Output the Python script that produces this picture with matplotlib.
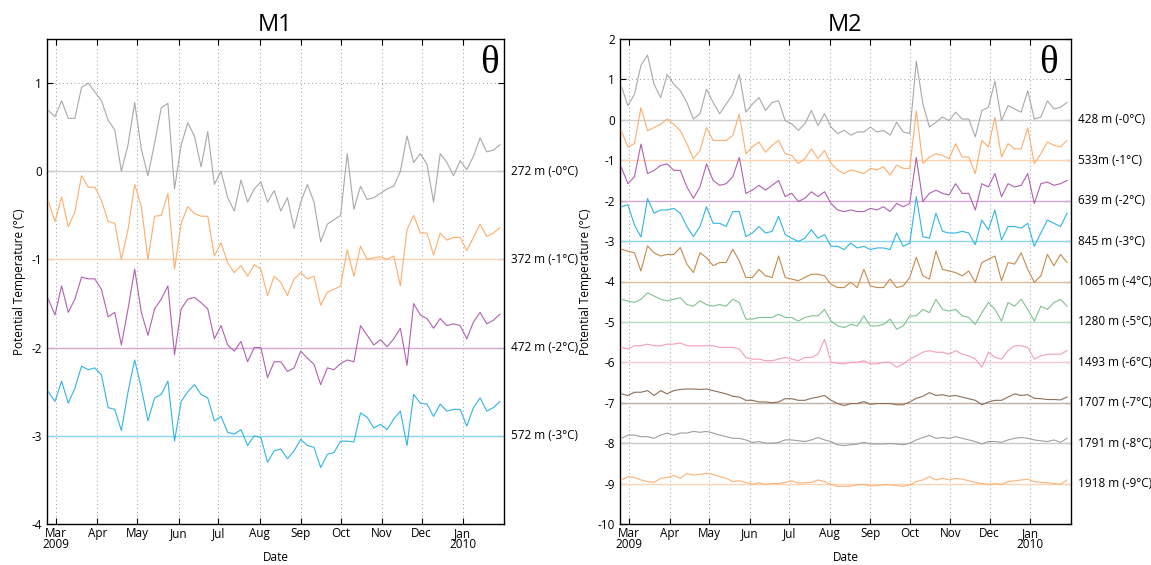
"""
Potential temperature time series at moorings M1 and M2,
Mar 2009 - Jan 2010. Each depth is shifted down by 1 degC.
"""

import numpy as np
import matplotlib
matplotlib.use("Agg")
import matplotlib.pyplot as plt
import matplotlib.colors as mcolors
import matplotlib.transforms as mtrans


# Sampling dates (every 5 days) shared by both moorings
dates = np.arange(np.datetime64("2009-02-23"), np.datetime64("2010-01-30"),
                  np.timedelta64(5, "D"))

# Month ticks
month_ticks = ["2009-03-01", "2009-04-01", "2009-05-01", "2009-06-01",
               "2009-07-01", "2009-08-01", "2009-09-01", "2009-10-01",
               "2009-11-01", "2009-12-01", "2010-01-01"]
month_labels = ["Mar\n2009", "Apr", "May", "Jun", "Jul", "Aug", "Sep",
                "Oct", "Nov", "Dec", "Jan\n2010"]

# M1, values relative to each depth's baseline (degC)
m1_272 = [0.69, 0.62, 0.80, 0.60, 0.60, 0.95, 1.00, 0.90, 0.80, 0.58,
          0.47, 0.00, 0.30, 0.78, 0.25, -0.05, 0.32, 0.72, 0.77, -0.20,
          0.30, 0.55, 0.40, 0.05, 0.45, -0.15, 0.00, -0.30, -0.45, -0.10,
          -0.35, -0.20, -0.12, -0.35, -0.22, -0.45, -0.30, -0.65, -0.35, -0.15,
          -0.35, -0.80, -0.60, -0.55, -0.50, 0.20, -0.43, -0.17, -0.32, -0.30,
          -0.25, -0.20, -0.17, 0.00, 0.40, 0.10, 0.20, 0.08, -0.35, 0.20,
          0.10, -0.05, 0.12, 0.02, 0.17, 0.38, 0.22, 0.24, 0.30]
m1_372 = [0.66, 0.43, 0.71, 0.37, 0.54, 0.95, 0.82, 0.82, 0.67, 0.43,
          0.41, 0.00, 0.34, 0.85, 0.60, 0.00, 0.49, 0.50, 0.75, -0.11,
          0.41, 0.60, 0.52, 0.49, 0.49, 0.04, 0.19, -0.04, -0.15, -0.07,
          -0.19, -0.06, -0.11, -0.41, -0.19, -0.26, -0.41, -0.22, -0.15, -0.22,
          -0.19, -0.52, -0.37, -0.34, -0.30, 0.11, -0.19, 0.15, 0.00, 0.02,
          0.03, 0.00, 0.04, -0.30, 0.34, 0.50, 0.30, 0.30, 0.05, 0.30,
          0.22, 0.25, 0.25, 0.10, 0.25, 0.40, 0.26, 0.30, 0.36]
m1_472 = [0.55, 0.37, 0.70, 0.40, 0.55, 0.80, 0.78, 0.78, 0.66, 0.35,
          0.40, 0.03, 0.44, 0.89, 0.40, 0.14, 0.44, 0.55, 0.70, -0.08,
          0.44, 0.55, 0.57, 0.51, 0.44, 0.10, 0.25, 0.03, -0.04, 0.07,
          -0.16, 0.00, 0.00, -0.34, -0.16, -0.16, -0.27, -0.23, -0.04, -0.12,
          -0.19, -0.42, -0.23, -0.25, -0.18, -0.14, -0.16, 0.25, 0.14, 0.03,
          0.09, 0.01, 0.10, 0.22, -0.20, 0.50, 0.37, 0.33, 0.22, 0.33,
          0.25, 0.27, 0.25, 0.10, 0.29, 0.40, 0.27, 0.31, 0.38]
m1_572 = [0.50, 0.39, 0.62, 0.37, 0.54, 0.79, 0.75, 0.77, 0.69, 0.32,
          0.30, 0.06, 0.50, 0.86, 0.54, 0.17, 0.43, 0.47, 0.62, -0.06,
          0.39, 0.50, 0.58, 0.47, 0.43, 0.17, 0.22, 0.04, 0.02, 0.07,
          -0.11, 0.00, -0.02, -0.30, -0.17, -0.15, -0.26, -0.17, -0.04, -0.11,
          -0.13, -0.36, -0.21, -0.19, -0.06, -0.06, -0.07, 0.26, 0.21, 0.09,
          0.13, 0.07, 0.19, 0.28, -0.11, 0.47, 0.37, 0.36, 0.22, 0.36,
          0.28, 0.30, 0.30, 0.11, 0.32, 0.43, 0.28, 0.32, 0.39]

# M2, values relative to each depth's baseline (degC)
m2_428 = [0.84, 0.35, 0.63, 1.35, 1.60, 0.88, 0.55, 1.12, 0.88, 0.72,
          0.43, 0.02, 0.15, 0.76, 0.43, 0.15, 0.39, 0.63, 1.12, 0.19,
          0.39, 0.55, 0.23, 0.43, 0.47, -0.02, -0.10, -0.26, -0.10, 0.23,
          -0.14, 0.15, -0.18, -0.34, -0.26, -0.38, -0.30, -0.30, -0.18, -0.30,
          -0.26, -0.38, -0.06, -0.30, -0.34, 1.45, 0.40, -0.18, -0.06, 0.07,
          -0.02, 0.19, 0.02, 0.02, -0.42, 0.23, 0.31, 0.96, -0.02, 0.35,
          0.27, 0.19, 0.72, 0.02, 0.07, 0.47, 0.27, 0.31, 0.43]
m2_533 = [0.73, 0.33, 0.41, 1.30, 0.73, 0.81, 0.89, 1.02, 0.89, 0.73,
          0.41, 0.04, 0.24, 0.81, 0.49, 0.49, 0.49, 0.61, 1.14, 0.16,
          0.33, 0.45, 0.20, 0.37, 0.49, 0.16, 0.12, -0.08, 0.04, 0.28,
          0.04, 0.24, -0.08, -0.24, -0.33, -0.24, -0.28, -0.33, -0.20, -0.24,
          -0.16, -0.37, -0.12, -0.20, -0.20, 1.22, -0.08, 0.08, 0.16, 0.12,
          0.04, 0.41, 0.08, 0.08, -0.33, 0.49, 0.33, 1.06, 0.08, 0.41,
          0.28, 0.28, 0.80, -0.08, 0.16, 0.45, 0.37, 0.33, 0.49]
m2_639 = [0.83, 0.42, 0.59, 1.40, 0.67, 0.75, 0.87, 0.91, 0.75, 0.75,
          0.34, 0.06, 0.34, 0.91, 0.50, 0.38, 0.42, 0.59, 1.07, 0.18,
          0.26, 0.38, 0.26, 0.38, 0.50, 0.10, 0.18, -0.02, 0.06, 0.22,
          0.10, 0.22, -0.07, -0.23, -0.27, -0.23, -0.27, -0.27, -0.19, -0.23,
          -0.15, -0.27, -0.07, -0.15, -0.07, 1.07, -0.02, 0.18, 0.26, 0.18,
          0.14, 0.42, 0.18, 0.18, -0.23, 0.42, 0.34, 0.67, 0.10, 0.42,
          0.34, 0.38, 0.67, -0.07, 0.42, 0.46, 0.38, 0.42, 0.50]
m2_845 = [0.85, 0.90, 0.40, 0.10, 1.05, 0.69, 0.77, 0.77, 0.81, 0.69,
          0.36, 0.11, 0.36, 0.85, 0.44, 0.44, 0.36, 0.73, 0.73, 0.11,
          0.20, 0.36, 0.20, 0.24, 0.61, 0.16, 0.07, -0.01, 0.07, 0.28,
          0.07, 0.16, -0.13, -0.13, -0.21, -0.05, -0.17, -0.13, -0.21, -0.17,
          -0.17, -0.21, 0.20, -0.13, -0.05, 1.10, 0.11, 0.07, 0.69, 0.24,
          0.20, 0.20, 0.24, 0.20, -0.09, 0.52, 0.28, 0.77, 0.03, 0.36,
          0.36, 0.32, 0.44, -0.13, 0.20, 0.52, 0.44, 0.36, 0.69]
m2_1065 = [0.80, 0.75, 0.71, 0.26, 0.88, 0.71, 0.63, 0.67, 0.67, 0.84,
           0.43, 0.22, 0.71, 0.59, 0.39, 0.47, 0.47, 0.80, 0.51, 0.10,
           0.10, 0.30, 0.14, 0.10, 0.63, 0.10, 0.06, 0.02, 0.10, 0.18,
           0.18, 0.14, -0.07, -0.15, -0.15, -0.02, -0.15, 0.30, -0.11, -0.15,
           -0.15, 0.06, -0.15, -0.11, 0.10, 0.60, 0.14, 0.06, 0.75, 0.30,
           0.26, 0.22, 0.14, 0.26, -0.02, 0.47, 0.55, 0.63, 0.02, 0.47,
           0.43, 0.71, 0.30, -0.02, 0.14, 0.67, 0.39, 0.67, 0.47]
m2_1280 = [0.56, 0.52, 0.48, 0.56, 0.72, 0.64, 0.56, 0.52, 0.56, 0.60,
           0.43, 0.39, 0.52, 0.43, 0.39, 0.43, 0.39, 0.56, 0.48, 0.07,
           0.07, 0.11, 0.11, 0.11, 0.19, 0.11, 0.11, 0.02, 0.11, 0.15,
           0.15, 0.31, 0.02, -0.10, -0.14, -0.06, -0.10, 0.15, -0.10, -0.10,
           -0.06, 0.07, -0.18, -0.10, 0.15, 0.15, 0.31, 0.23, 0.56, 0.31,
           0.27, 0.31, 0.15, 0.11, -0.06, 0.23, 0.48, 0.31, 0.02, 0.48,
           0.39, 0.56, 0.31, 0.02, 0.39, 0.31, 0.48, 0.56, 0.39]
m2_1493 = [0.37, 0.33, 0.41, 0.41, 0.45, 0.41, 0.41, 0.45, 0.45, 0.48,
           0.41, 0.41, 0.41, 0.41, 0.41, 0.37, 0.37, 0.37, 0.33, 0.12,
           0.08, 0.08, 0.04, 0.04, 0.08, 0.12, 0.08, 0.04, 0.12, 0.12,
           0.20, 0.57, 0.00, -0.02, -0.04, 0.00, 0.00, 0.04, -0.04, -0.04,
           0.00, 0.00, -0.12, -0.04, 0.08, 0.16, 0.25, 0.29, 0.25, 0.25,
           0.20, 0.29, 0.20, 0.16, 0.08, -0.12, 0.25, 0.12, 0.08, 0.29,
           0.41, 0.41, 0.37, 0.08, 0.16, 0.20, 0.20, 0.20, 0.29]
m2_1707 = [0.22, 0.18, 0.26, 0.26, 0.30, 0.18, 0.30, 0.22, 0.30, 0.33,
           0.34, 0.34, 0.33, 0.34, 0.30, 0.26, 0.22, 0.16, 0.14, 0.06,
           0.06, 0.02, 0.02, 0.00, 0.02, 0.10, 0.10, 0.06, 0.06, 0.11,
           0.14, 0.18, 0.06, -0.02, -0.07, -0.02, -0.02, 0.03, -0.04, -0.02,
           -0.02, -0.02, -0.05, -0.05, 0.02, 0.11, 0.16, 0.25, 0.18, 0.20,
           0.16, 0.18, 0.14, 0.10, 0.06, -0.05, 0.02, 0.06, 0.06, 0.14,
           0.22, 0.18, 0.20, 0.11, 0.10, 0.08, 0.08, 0.07, 0.14]
m2_1791 = [0.12, 0.20, 0.20, 0.16, 0.16, 0.12, 0.20, 0.25, 0.20, 0.25,
           0.25, 0.29, 0.27, 0.29, 0.25, 0.20, 0.16, 0.12, 0.12, 0.08,
           0.02, 0.04, 0.00, 0.00, 0.02, 0.08, 0.08, 0.06, 0.04, 0.08,
           0.14, 0.08, 0.04, -0.04, -0.06, -0.04, -0.02, 0.02, -0.02, -0.02,
           -0.02, -0.01, -0.02, -0.04, 0.00, 0.08, 0.14, 0.19, 0.12, 0.14,
           0.12, 0.16, 0.12, 0.08, 0.04, -0.02, 0.04, 0.04, 0.02, 0.08,
           0.12, 0.14, 0.12, 0.08, 0.06, 0.04, 0.08, 0.02, 0.12]
m2_1918 = [0.09, 0.17, 0.15, 0.09, 0.05, 0.03, 0.13, 0.15, 0.20, 0.13,
           0.25, 0.21, 0.23, 0.25, 0.23, 0.17, 0.13, 0.05, 0.07, 0.03,
           -0.02, 0.02, -0.02, 0.00, 0.00, 0.03, 0.07, 0.01, 0.02, 0.03,
           0.09, 0.05, -0.02, -0.07, -0.07, -0.06, -0.03, -0.02, -0.06, -0.05,
           -0.03, -0.03, -0.05, -0.07, -0.03, 0.05, 0.09, 0.17, 0.09, 0.13,
           0.09, 0.13, 0.11, 0.07, 0.03, 0.00, -0.02, 0.00, -0.02, 0.05,
           0.07, 0.09, 0.11, 0.05, 0.03, 0.02, 0.00, -0.02, 0.09]

m1_labels = ["272 m (-0°C)", "372 m (-1°C)", "472 m (-2°C)", "572 m (-3°C)"]
m2_labels = ["428 m (-0°C)", "533m (-1°C)", "639 m (-2°C)", "845 m (-3°C)",
             "1065 m (-4°C)", "1280 m (-5°C)", "1493 m (-6°C)",
             "1707 m (-7°C)", "1791 m (-8°C)", "1918 m (-9°C)"]

m1_colors = ["#a8a8a8", "#fdae6b", "#b160b0", "#2fb4e6"]
m2_colors = ["#a8a8a8", "#fdae6b", "#b160b0", "#2fb4e6", "#c48a4e",
             "#80c28f", "#f29cc0", "#8d6e57", "#9e9e9e", "#fcb276"]


plt.rcParams["font.family"] = ["Open Sans", "DejaVu Sans"]
plt.rcParams["axes.unicode_minus"] = False

fig = plt.figure(figsize=(11.51, 5.65), dpi=100)
ax1 = fig.add_axes([47 / 1151, 41 / 565, 457 / 1151, 485 / 565])
ax2 = fig.add_axes([620 / 1151, 41 / 565, 451 / 1151, 485 / 565])


def lighten(col, amount=0.45):
    """Mix a colour with white for the baseline"""
    rgb = np.array(mcolors.to_rgb(col))
    return tuple(rgb + (1 - rgb) * amount)


def draw_panel(ax, series, labels, colors, ylim, yticks, title, theta_x):
    """Stack the depths, one degree apart, with a label at each baseline"""
    trans = mtrans.blended_transform_factory(ax.transAxes, ax.transData)
    for i, (vals, lab, col) in enumerate(zip(series, labels, colors)):
        ax.axhline(-i, color=lighten(col), lw=1.0, zorder=2)
        ax.plot(dates, np.array(vals) - i, color=col, lw=0.8, zorder=3)
        ax.text(1.016, -i, lab, transform=trans, va="center", ha="left",
                fontsize=8.5)
    ax.set_xlim(np.datetime64("2009-02-22"), np.datetime64("2010-02-01"))
    ax.set_ylim(ylim)
    ax.set_yticks(yticks)
    ax.set_yticklabels([str(t) for t in yticks])
    ax.set_xticks(np.array(month_ticks, dtype="datetime64[D]"))
    ax.set_xticklabels(month_labels, linespacing=0.8)
    ax.grid(True, ls=(0, (1, 3)), color="#9a9a9a", lw=0.7, zorder=0)
    ax.tick_params(direction="in", top=True, right=True, length=4,
                   labelsize=8.5, width=0.8)
    ax.tick_params(axis="x", pad=2)
    for s in ax.spines.values():
        s.set_linewidth(1.0)
    ax.set_title(title, fontsize=17, pad=6)
    ax.set_xlabel("Date", fontsize=8.5, labelpad=0)
    ax.set_ylabel("Potential Temperature (°C)", fontsize=8.5, labelpad=4)
    ax.text(theta_x, 0.95, "θ", transform=ax.transAxes, ha="center",
            va="center", fontsize=28, family="Liberation Serif")


draw_panel(ax1, [m1_272, m1_372, m1_472, m1_572], m1_labels, m1_colors,
           (-4, 1.5), [1, 0, -1, -2, -3, -4], "M1", 0.969)
draw_panel(ax2, [m2_428, m2_533, m2_639, m2_845, m2_1065, m2_1280,
                 m2_1493, m2_1707, m2_1791, m2_1918], m2_labels, m2_colors,
           (-10, 2), [2, 1, 0, -1, -2, -3, -4, -5, -6, -7, -8, -9, -10],
           "M2", 0.949)

fig.savefig("out.png", dpi=100)
